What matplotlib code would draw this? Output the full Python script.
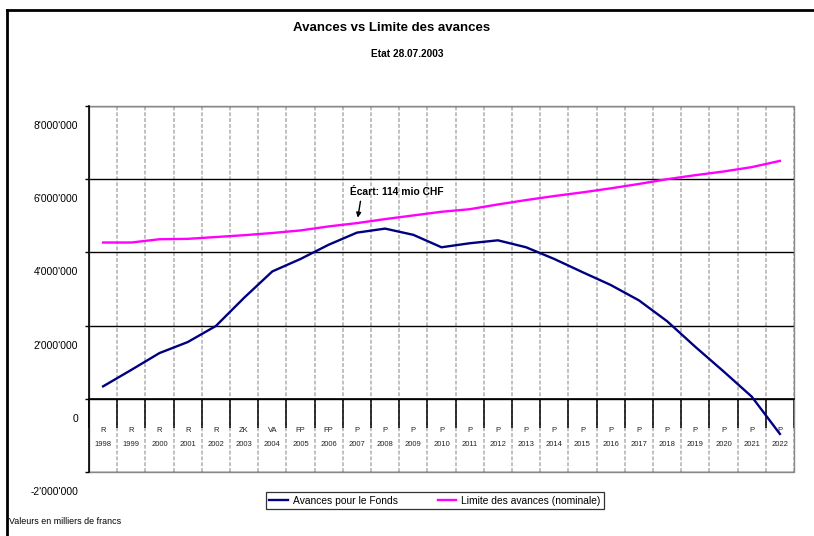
import numpy as np
import matplotlib
matplotlib.use('Agg')
import matplotlib.pyplot as plt
from matplotlib.transforms import offset_copy
from matplotlib.patches import Rectangle
from matplotlib.lines import Line2D

plt.rcParams['font.family'] = ['Liberation Sans', 'DejaVu Sans']

# values in thousands of francs
years = [1998, 1999, 2000, 2001, 2002, 2003, 2004, 2005, 2006, 2007, 2008, 2009, 2010,
         2011, 2012, 2013, 2014, 2015, 2016, 2017, 2018, 2019, 2020, 2021, 2022]
codes = ['R', 'R', 'R', 'R', 'R', 'ZK', 'VA', 'FP', 'FP', 'P', 'P', 'P', 'P',
         'P', 'P', 'P', 'P', 'P', 'P', 'P', 'P', 'P', 'P', 'P', 'P']
avances = [340000, 790000, 1250000, 1550000, 1990000, 2760000, 3480000, 3820000, 4210000,
           4540000, 4650000, 4480000, 4140000, 4250000, 4330000, 4140000, 3820000, 3460000,
           3110000, 2690000, 2120000, 1420000, 750000, 60000, -960000]
limite = [4270000, 4270000, 4360000, 4370000, 4420000, 4470000, 4530000, 4600000, 4710000,
          4800000, 4910000, 5010000, 5110000, 5180000, 5310000, 5430000, 5540000, 5640000,
          5750000, 5870000, 6000000, 6110000, 6210000, 6330000, 6500000]
yticks = [-2000000, 0, 2000000, 4000000, 6000000, 8000000]
note = "Écart: 114 mio CHF"

BLUE, PINK = '#000080', '#FF00FF'
W, H = 814, 536

fig = plt.figure(figsize=(W / 100, H / 100), dpi=100)
ax = fig.add_axes([89 / W, (H - 472) / H, (794 - 89) / W, (472 - 106) / H])

x = np.arange(len(years))
ax.set_xlim(-0.5, len(years) - 0.5)
ax.set_ylim(yticks[0], yticks[-1])

# dashed vertical category separators
ax.vlines(x + 0.5, yticks[0], yticks[-1], colors='#c0c0c0', linestyles=(0, (2, 1)), lw=1.4, zorder=0.5)

ax.plot(x, avances, color=BLUE, lw=1.7, label='Avances pour le Fonds', zorder=3)
ax.plot(x, limite, color=PINK, lw=1.7, label='Limite des avances (nominale)', zorder=3)

# y axis
ax.set_yticks(yticks)
ax.yaxis.grid(True, color='black', lw=1.0)
ax.set_axisbelow(True)
ax.tick_params(axis='y', length=3, width=1, direction='out', labelleft=False)
lab_tr = offset_copy(ax.get_yaxis_transform(), fig=fig, x=-11, y=-20, units='dots')
for v in yticks:
    ax.text(0, v, f"{v:,}".replace(',', "'"), transform=lab_tr, ha='right', va='center', fontsize=7.4)

# category axis crossing at zero
ax.spines['bottom'].set_position(('data', 0))
ax.spines['bottom'].set_linewidth(1.2)
ax.spines['left'].set_linewidth(1.2)
ax.spines['top'].set_visible(False)
ax.spines['right'].set_visible(False)
ax.set_xticks(x)
ax.set_xticklabels([f"{c}\n{y}" for c, y in zip(codes, years)])
ax.set_xticks(np.append(x - 0.5, x[-1] + 0.5), minor=True)
ax.tick_params(axis='x', which='major', length=0, pad=20.5, labelsize=5.5, labelcolor='#222222')
ax.tick_params(axis='x', which='minor', length=21, width=1.1, direction='out', color='black')
for lab in ax.get_xticklabels():
    lab.set_linespacing(2.35)

ax.add_patch(Rectangle((0, 0), 1, 1, transform=ax.transAxes, fill=False, edgecolor='#888888',
                       lw=1, clip_on=False, zorder=0.6))

ax.annotate(note, xy=(9, limite[9]), xytext=(-7, 31), textcoords='offset pixels',
            ha='left', va='center', fontsize=7.4, fontweight='bold',
            arrowprops=dict(arrowstyle='-|>', color='black', lw=1, relpos=(0.12, 0),
                            shrinkA=1, shrinkB=4, mutation_scale=7))

fig.text(392 / W, 1 - 28 / H, 'Avances vs Limite des avances', ha='center', va='center',
         fontsize=9.5, fontweight='bold')
fig.text(407 / W, 1 - 54 / H, 'Etat 28.07.2003', ha='center', va='center',
         fontsize=7.3, fontweight='bold')
fig.text(9 / W, 1 - 522 / H, 'Valeurs en milliers de francs', ha='left', va='center', fontsize=6.4)

leg = fig.legend(loc='center', bbox_to_anchor=(435 / W, 1 - 500.5 / H), ncol=2, frameon=True,
                 fancybox=False, edgecolor='black', fontsize=7.4, handlelength=1.8,
                 columnspacing=3.9, borderpad=0.3, handletextpad=0.5)
leg.get_frame().set_linewidth(0.9)

# outer chart frame
fig.add_artist(Line2D([7 / W, 1], [1 - 10 / H, 1 - 10 / H], transform=fig.transFigure, color='black', lw=2))
fig.add_artist(Line2D([7 / W, 7 / W], [0, 1 - 10 / H], transform=fig.transFigure, color='black', lw=2))

fig.savefig('out.png', dpi=100)
